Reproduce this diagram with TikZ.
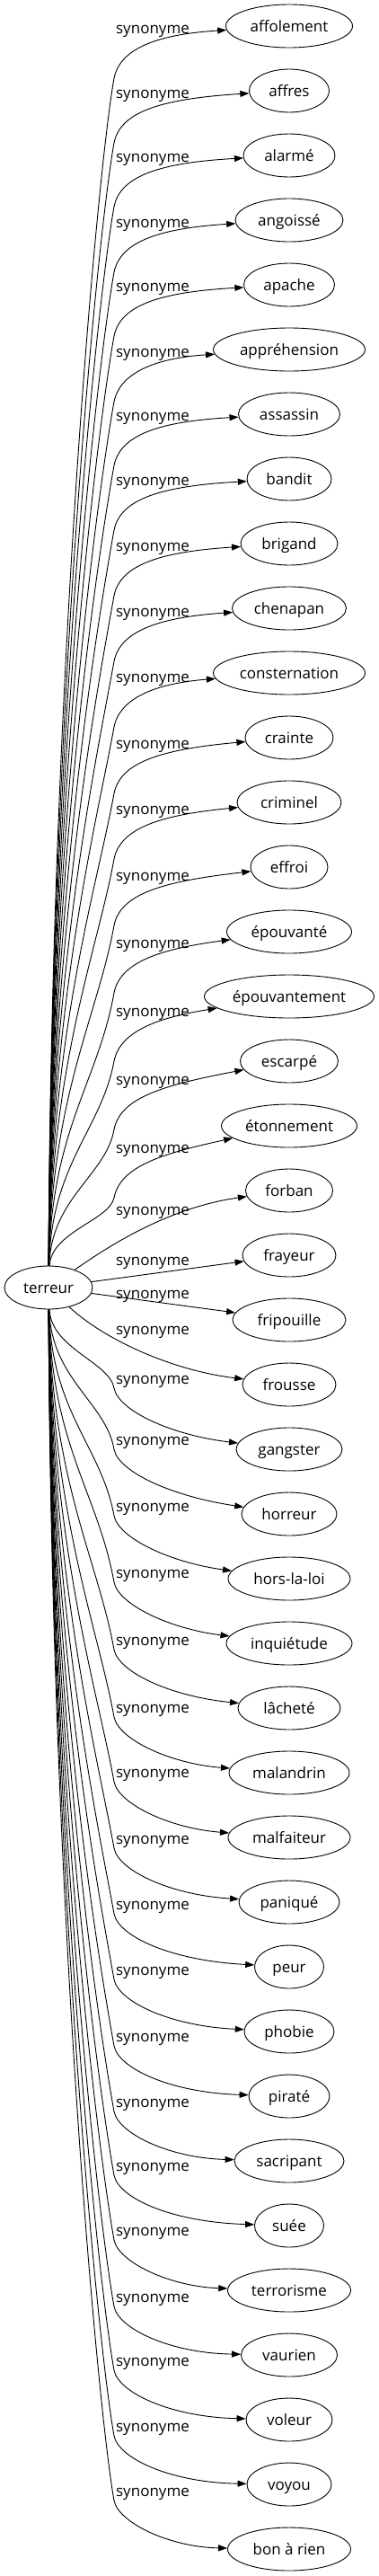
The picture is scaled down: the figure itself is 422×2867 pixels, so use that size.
\documentclass[tikz,border=0pt]{standalone}
\usepackage{fontspec}
\setmainfont{Open Sans}
\usetikzlibrary{shapes.geometric,
	arrows.meta}

\begin{document}
\begin{tikzpicture}[
            x=1pt, y=-1pt,
            mot/.style={
                    ellipse,
                    draw,
                    line width=0.9pt,
                    inner xsep=0pt,
                    inner ysep=0pt,
                    minimum height=48pt,
                    text height=12pt,
                    text depth=0pt,
                    font=\fontsize{17}{20}\selectfont
                },
            syn/.style={
                    anchor=base,
                    inner sep=0pt,
                    font=\fontsize{17}{20}\selectfont
                },
            lien/.style={
                    line width=0.9pt,
                    -{Triangle[length=10pt, width=7pt]}
                }
        ]
            \useasboundingbox (0, 0) rectangle (422, 2867);
            \node [mot, minimum width=98] (terreur) at (54, 1433) {terreur};
            \node [mot, minimum width=141] (affolement) at (322, 29) {affolement};
            \node [mot, minimum width=89] (affres) at (322, 101) {affres};
            \node [mot, minimum width=102] (alarme) at (322, 173) {alarmé};
            \node [mot, minimum width=120] (angoisse) at (322, 245) {angoissé};
            \node [mot, minimum width=101] (apache) at (322, 317) {apache};
            \node [mot, minimum width=169] (apprehension) at (322, 389) {appréhension};
            \node [mot, minimum width=113] (assassin) at (322, 461) {assassin};
            \node [mot, minimum width=94] (bandit) at (322, 533) {bandit};
            \node [mot, minimum width=108] (brigand) at (322, 605) {brigand};
            \node [mot, minimum width=127] (chenapan) at (322, 677) {chenapan};
            \node [mot, minimum width=169] (consternation) at (322, 749) {consternation};
            \node [mot, minimum width=98] (crainte) at (322, 821) {crainte};
            \node [mot, minimum width=116] (criminel) at (322, 893) {criminel};
            \node [mot, minimum width=86] (effroi) at (322, 965) {effroi};
            \node [mot, minimum width=139] (epouvante) at (322, 1037) {épouvanté};
            \node [mot, minimum width=189] (epouvantement) at (322, 1109) {épouvantement};
            \node [mot, minimum width=109] (escarpe) at (322, 1181) {escarpé};
            \node [mot, minimum width=151] (etonnement) at (322, 1253) {étonnement};
            \node [mot, minimum width=97] (forban) at (322, 1325) {forban};
            \node [mot, minimum width=104] (frayeur) at (322, 1397) {frayeur};
            \node [mot, minimum width=126] (fripouille) at (322, 1469) {fripouille};
            \node [mot, minimum width=104] (frousse) at (322, 1541) {frousse};
            \node [mot, minimum width=118] (gangster) at (322, 1613) {gangster};
            \node [mot, minimum width=106] (horreur) at (322, 1685) {horreur};
            \node [mot, minimum width=136] (horslaloi) at (322, 1757) {hors-la-loi};
            \node [mot, minimum width=140] (inquietude) at (322, 1829) {inquiétude};
            \node [mot, minimum width=114] (lachete) at (322, 1901) {lâcheté};
            \node [mot, minimum width=134] (malandrin) at (322, 1973) {malandrin};
            \node [mot, minimum width=136] (malfaiteur) at (322, 2045) {malfaiteur};
            \node [mot, minimum width=112] (panique) at (322, 2117) {paniqué};
            \node [mot, minimum width=77] (peur) at (322, 2189) {peur};
            \node [mot, minimum width=100] (phobie) at (322, 2261) {phobie};
            \node [mot, minimum width=90] (pirate) at (322, 2333) {piraté};
            \node [mot, minimum width=122] (sacripant) at (322, 2405) {sacripant};
            \node [mot, minimum width=77] (suee) at (322, 2477) {suée};
            \node [mot, minimum width=137] (terrorisme) at (322, 2549) {terrorisme};
            \node [mot, minimum width=107] (vaurien) at (322, 2621) {vaurien};
            \node [mot, minimum width=96] (voleur) at (322, 2693) {voleur};
            \node [mot, minimum width=94] (voyou) at (322, 2765) {voyou};
            \node [mot, minimum width=137] (bonarien) at (322, 2837) {bon à rien};
            \node [syn] (lab0) at (170, 37) {synonyme};
            \node [syn] (lab1) at (170, 109) {synonyme};
            \node [syn] (lab2) at (170, 180) {synonyme};
            \node [syn] (lab3) at (170, 253) {synonyme};
            \node [syn] (lab4) at (170, 324) {synonyme};
            \node [syn] (lab5) at (170, 397) {synonyme};
            \node [syn] (lab6) at (170, 468) {synonyme};
            \node [syn] (lab7) at (170, 540) {synonyme};
            \node [syn] (lab8) at (170, 613) {synonyme};
            \node [syn] (lab9) at (170, 686) {synonyme};
            \node [syn] (lab10) at (170, 759) {synonyme};
            \node [syn] (lab11) at (170, 833) {synonyme};
            \node [syn] (lab12) at (170, 906) {synonyme};
            \node [syn] (lab13) at (170, 980) {synonyme};
            \node [syn] (lab14) at (170, 1055) {synonyme};
            \node [syn] (lab15) at (170, 1131) {synonyme};
            \node [syn] (lab16) at (170, 1207) {synonyme};
            \node [syn] (lab17) at (170, 1283) {synonyme};
            \node [syn] (lab18) at (170, 1352) {synonyme};
            \node [syn] (lab19) at (170, 1408) {synonyme};
            \node [syn] (lab20) at (170, 1445) {synonyme};
            \node [syn] (lab21) at (170, 1485) {synonyme};
            \node [syn] (lab22) at (170, 1540) {synonyme};
            \node [syn] (lab23) at (170, 1608) {synonyme};
            \node [syn] (lab24) at (170, 1682) {synonyme};
            \node [syn] (lab25) at (170, 1756) {synonyme};
            \node [syn] (lab26) at (170, 1831) {synonyme};
            \node [syn] (lab27) at (170, 1906) {synonyme};
            \node [syn] (lab28) at (170, 1978) {synonyme};
            \node [syn] (lab29) at (170, 2052) {synonyme};
            \node [syn] (lab30) at (170, 2125) {synonyme};
            \node [syn] (lab31) at (170, 2198) {synonyme};
            \node [syn] (lab32) at (170, 2272) {synonyme};
            \node [syn] (lab33) at (170, 2345) {synonyme};
            \node [syn] (lab34) at (170, 2416) {synonyme};
            \node [syn] (lab35) at (170, 2488) {synonyme};
            \node [syn] (lab36) at (170, 2562) {synonyme};
            \node [syn] (lab37) at (170, 2633) {synonyme};
            \node [syn] (lab38) at (170, 2706) {synonyme};
            \node [syn] (lab39) at (170, 2778) {synonyme};
            \draw [lien] (terreur) .. controls (57, 748) and (109, 187) .. (127, 87) .. controls (134, 52) and (180, 38) .. (affolement);
            \draw [lien] (terreur) .. controls (57, 784) and (109, 259) .. (127, 159) .. controls (134, 124) and (180, 110) .. (affres);
            \draw [lien] (terreur) .. controls (57, 820) and (109, 330) .. (127, 230) .. controls (134, 195) and (180, 181) .. (alarme);
            \draw [lien] (terreur) .. controls (57, 856) and (109, 403) .. (127, 303) .. controls (134, 268) and (180, 254) .. (angoisse);
            \draw [lien] (terreur) .. controls (57, 892) and (109, 474) .. (127, 374) .. controls (134, 339) and (180, 325) .. (apache);
            \draw [lien] (terreur) .. controls (57, 928) and (109, 547) .. (127, 447) .. controls (134, 412) and (180, 398) .. (apprehension);
            \draw [lien] (terreur) .. controls (57, 964) and (109, 618) .. (127, 518) .. controls (134, 483) and (180, 469) .. (assassin);
            \draw [lien] (terreur) .. controls (57, 1000) and (109, 690) .. (127, 590) .. controls (134, 555) and (180, 541) .. (bandit);
            \draw [lien] (terreur) .. controls (57, 1036) and (109, 763) .. (127, 663) .. controls (134, 628) and (180, 614) .. (brigand);
            \draw [lien] (terreur) .. controls (57, 1073) and (109, 836) .. (127, 736) .. controls (134, 701) and (180, 687) .. (chenapan);
            \draw [lien] (terreur) .. controls (57, 1109) and (109, 909) .. (127, 809) .. controls (134, 774) and (180, 760) .. (consternation);
            \draw [lien] (terreur) .. controls (57, 1146) and (109, 983) .. (127, 883) .. controls (134, 848) and (180, 834) .. (crainte);
            \draw [lien] (terreur) .. controls (57, 1183) and (109, 1056) .. (127, 956) .. controls (134, 921) and (180, 907) .. (criminel);
            \draw [lien] (terreur) .. controls (57, 1220) and (109, 1130) .. (127, 1030) .. controls (134, 995) and (180, 981) .. (effroi);
            \draw [lien] (terreur) .. controls (57, 1257) and (109, 1205) .. (127, 1105) .. controls (134, 1070) and (180, 1056) .. (epouvante);
            \draw [lien] (terreur) .. controls (57, 1295) and (113, 1257) .. (127, 1181) .. controls (134, 1146) and (180, 1132) .. (epouvantement);
            \draw [lien] (terreur) .. controls (57, 1333) and (118, 1308) .. (127, 1257) .. controls (134, 1222) and (180, 1208) .. (escarpe);
            \draw [lien] (terreur) .. controls (57, 1371) and (122, 1358) .. (127, 1333) .. controls (134, 1298) and (180, 1284) .. (etonnement);
            \draw [lien] (terreur) .. controls (110, 1395) and (180, 1345) .. (forban);
            \draw [lien] (terreur) -- (frayeur);
            \draw [lien] (terreur) -- (fripouille);
            \draw [lien] (terreur) .. controls (115, 1490) and (190, 1525) .. (frousse);
            \draw [lien] (terreur) .. controls (57, 1501) and (122, 1516) .. (127, 1545) .. controls (132, 1570) and (190, 1597) .. (gangster);
            \draw [lien] (terreur) .. controls (57, 1535) and (118, 1561) .. (127, 1613) .. controls (132, 1638) and (190, 1665) .. (horreur);
            \draw [lien] (terreur) .. controls (57, 1572) and (113, 1610) .. (127, 1687) .. controls (132, 1712) and (190, 1739) .. (horslaloi);
            \draw [lien] (terreur) .. controls (57, 1609) and (109, 1661) .. (127, 1761) .. controls (132, 1786) and (190, 1813) .. (inquietude);
            \draw [lien] (terreur) .. controls (57, 1647) and (109, 1736) .. (127, 1836) .. controls (132, 1861) and (190, 1888) .. (lachete);
            \draw [lien] (terreur) .. controls (57, 1684) and (109, 1811) .. (127, 1911) .. controls (132, 1936) and (190, 1963) .. (malandrin);
            \draw [lien] (terreur) .. controls (57, 1720) and (109, 1883) .. (127, 1983) .. controls (132, 2008) and (190, 2035) .. (malfaiteur);
            \draw [lien] (terreur) .. controls (57, 1757) and (109, 1957) .. (127, 2057) .. controls (132, 2082) and (190, 2109) .. (panique);
            \draw [lien] (terreur) .. controls (57, 1794) and (109, 2030) .. (127, 2130) .. controls (132, 2155) and (190, 2182) .. (peur);
            \draw [lien] (terreur) .. controls (57, 1830) and (109, 2103) .. (127, 2203) .. controls (132, 2228) and (190, 2255) .. (phobie);
            \draw [lien] (terreur) .. controls (57, 1867) and (109, 2177) .. (127, 2277) .. controls (132, 2302) and (190, 2329) .. (pirate);
            \draw [lien] (terreur) .. controls (57, 1904) and (109, 2250) .. (127, 2350) .. controls (132, 2375) and (190, 2402) .. (sacripant);
            \draw [lien] (terreur) .. controls (57, 1939) and (109, 2321) .. (127, 2421) .. controls (132, 2446) and (190, 2473) .. (suee);
            \draw [lien] (terreur) .. controls (57, 1975) and (109, 2393) .. (127, 2493) .. controls (132, 2518) and (190, 2545) .. (terrorisme);
            \draw [lien] (terreur) .. controls (57, 2012) and (109, 2467) .. (127, 2567) .. controls (132, 2592) and (190, 2619) .. (vaurien);
            \draw [lien] (terreur) .. controls (57, 2047) and (109, 2538) .. (127, 2638) .. controls (132, 2663) and (190, 2690) .. (voleur);
            \draw [lien] (terreur) .. controls (57, 2084) and (109, 2611) .. (127, 2711) .. controls (132, 2736) and (190, 2763) .. (voyou);
            \draw [lien] (terreur) .. controls (57, 2120) and (109, 2683) .. (127, 2783) .. controls (132, 2808) and (190, 2835) .. (bonarien);
        \end{tikzpicture}
\end{document}
